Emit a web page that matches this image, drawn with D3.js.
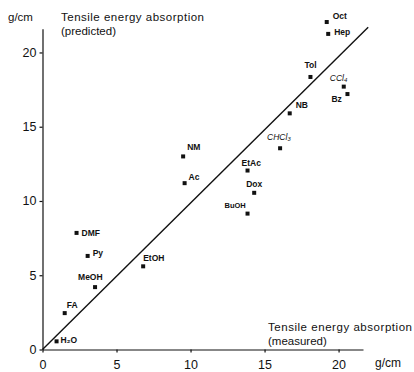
<!DOCTYPE html>
<html>
<head>
<meta charset="utf-8">
<script src="https://cdn.jsdelivr.net/npm/d3@7"></script>
<style>
  body { margin: 0; background: #fff; }
  svg { display: block; font-family: "Liberation Sans", Arial, sans-serif; }
  .axis path, .axis line { stroke: #111; stroke-width: 1.2; }
  .axis text { font-size: 12.5px; fill: #111; }
  .title { font-size: 11.5px; fill: #111; }
  .plabel { font-size: 8.5px; font-weight: bold; fill: #111; }
</style>
</head>
<body>
<div id="chart"></div>
<script>
// solvents: measured (x) vs predicted (y) tensile energy absorption, g/cm
const solvents = ['H₂O', 'FA', 'MeOH', 'Py', 'DMF', 'EtOH', 'Ac', 'NM', 'EtAc', 'Dox', 'BuOH',
  'CHCl₃', 'NB', 'Tol', 'CCl₄', 'Bz', 'Oct', 'Hep'];
const measured = [0.95, 1.5, 3.55, 3.05, 2.3, 6.8, 9.6, 9.5, 13.85, 14.3, 13.85,
  16.05, 16.7, 18.1, 20.35, 20.6, 19.2, 19.3];
const predicted = [0.55, 2.45, 4.2, 6.3, 7.85, 5.6, 11.2, 13.0, 12.05, 10.55, 9.15,
  13.55, 15.9, 18.35, 17.7, 17.2, 22.05, 21.25];
const xTicks = [0, 5, 10, 15, 20];
const yTicks = [0, 5, 10, 15, 20];
// regression line end points (measured, predicted)
const fitLine = [[0, 0], [22, 21.7]];

// label placement relative to each marker [dx, dy]
const labelOffsets = [[4, 2], [2, -5], [-17, -7], [5, 0], [5, 3], [0, -5], [4, -3], [4, -6],
  [-6, -5], [-8, -6], [-23, -6], [-13, -8], [6, -5], [-6, -9], [-14, -6], [-16, 8], [6, -3], [6, 1]];

const width = 414, height = 372;
const svg = d3.select('#chart').append('svg')
  .attr('width', width).attr('height', height);

const x = d3.scaleLinear().domain([0, 21.65]).range([42.5, 363]);
const y = d3.scaleLinear().domain([0, 21.6]).range([349.5, 28.7]);

// axes
svg.append('g')
  .attr('class', 'axis')
  .attr('transform', `translate(0, ${y(0)})`)
  .call(d3.axisBottom(x).tickValues(xTicks).tickSize(3).tickSizeOuter(0).tickPadding(6))
  .call(g => g.selectAll('text').attr('dy', '0.8em'));

svg.append('g')
  .attr('class', 'axis')
  .attr('transform', `translate(${x(0)}, 0)`)
  .call(d3.axisLeft(y).tickValues(yTicks).tickSize(3).tickSizeOuter(0).tickPadding(3));

// fit line
svg.append('line')
  .attr('x1', x(fitLine[0][0])).attr('y1', y(fitLine[0][1]))
  .attr('x2', x(fitLine[1][0])).attr('y2', y(fitLine[1][1]))
  .attr('stroke', '#111').attr('stroke-width', 1.4);

const pts = solvents.map((name, i) => ({ name, mx: measured[i], py: predicted[i], off: labelOffsets[i] }));

svg.append('g').selectAll('rect')
  .data(pts)
  .join('rect')
  .attr('x', d => x(d.mx) - 2)
  .attr('y', d => y(d.py) - 2)
  .attr('width', 4).attr('height', 4)
  .attr('fill', '#111');

svg.append('g').selectAll('text')
  .data(pts)
  .join('text')
  .attr('class', 'plabel')
  .attr('x', d => x(d.mx) + d.off[0])
  .attr('y', d => y(d.py) + d.off[1])
  .style('font-size', d => d.name === 'BuOH' ? '7.5px' : null)
  .style('font-style', d => (d.name === 'CCl₄' || d.name === 'CHCl₃') ? 'italic' : null)
  .style('font-weight', d => (d.name === 'CCl₄' || d.name === 'CHCl₃') ? 'normal' : null)
  .text(d => d.name);

// axis titles
svg.append('text').attr('class', 'title').attr('x', 8).attr('y', 21).text('g/cm');
svg.append('text').attr('class', 'title').attr('x', 61).attr('y', 21)
  .attr('textLength', 143).text('Tensile energy absorption');
svg.append('text').attr('class', 'title').attr('x', 61).attr('y', 35).text('(predicted)');
svg.append('text').attr('class', 'title').attr('x', 268).attr('y', 331)
  .attr('textLength', 144).text('Tensile energy absorption');
svg.append('text').attr('class', 'title').attr('x', 268).attr('y', 345).text('(measured)');
svg.append('text').attr('class', 'title').style('font-size', '12px').attr('x', 375).attr('y', 367).text('g/cm');
</script>
</body>
</html>
